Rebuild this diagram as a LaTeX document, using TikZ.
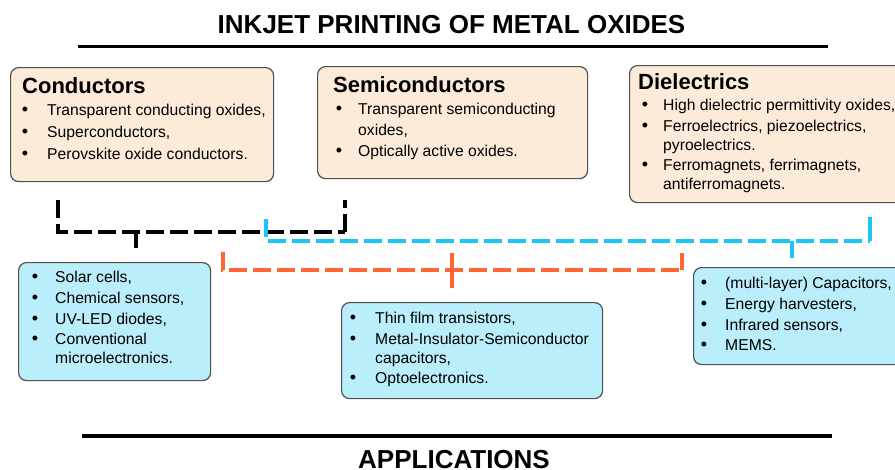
\documentclass[tikz,border=0pt]{standalone}
\usepackage{fontspec}
\setmainfont{Liberation Sans}
\definecolor{peach}{RGB}{253,235,218}
\definecolor{skyfill}{RGB}{185,238,250}
\definecolor{boxline}{RGB}{80,80,80}
\definecolor{cyanline}{RGB}{27,198,242}
\definecolor{orangeline}{RGB}{255,102,51}
\newcommand\bodyfont{\fontsize{15.7}{19}\selectfont}
\newcommand\bulfont{\fontsize{18}{20}\selectfont}
\newcommand\headfont{\fontsize{22}{26}\selectfont\bfseries}
\newcommand\titlefont{\fontsize{26}{30}\selectfont\bfseries}
\tikzset{
  catbox/.style={draw=boxline, line width=1.2pt, fill=peach, rounded corners=8pt, anchor=north west, inner sep=0pt},
  appbox/.style={draw=boxline, line width=1.2pt, fill=skyfill, rounded corners=8pt, anchor=north west, inner sep=0pt},
  head/.style={anchor=base west, inner sep=0pt, font=\headfont},
  itemtext/.style={anchor=base west, inner sep=0pt, font=\bodyfont},
  bul/.style={anchor=base, inner sep=0pt, font=\bulfont, yshift=-0.8pt},
  title/.style={anchor=base, inner sep=0pt, font=\titlefont},
  rule/.style={line width=3.5pt},
  bracket/.style={line width=3.2pt, dash pattern=on 18pt off 6pt},
  stub/.style={line width=3.2pt},
}
\begin{document}
\begin{tikzpicture}[x=1pt,y=-1pt]
\useasboundingbox (0,0) rectangle (895,469);
\clip (0,0) rectangle (895,469);
\fill[white] (0,0) rectangle (895,469);

% titles and rules
\node[title] (t1) at (451.5,33) {INKJET PRINTING OF METAL OXIDES};
\coordinate (r1a) at (78,46.5);
\coordinate (r1b) at (828,46.5);
\draw[rule] (r1a) -- (r1b);
\coordinate (r2a) at (82,436);
\coordinate (r2b) at (832,436);
\draw[rule] (r2a) -- (r2b);
\node[title] (t2) at (454,468.5) {APPLICATIONS};

% category boxes
\node[catbox, minimum width=263pt, minimum height=114pt] (cond) at (10,67) {};
\node[head] (condh) at (22,93) {Conductors};
\node[bul] (cb1) at (25,115) {•};
\node[itemtext] (ct1) at (47,115) {Transparent conducting oxides,};
\node[bul] (cb2) at (25,137) {•};
\node[itemtext] (ct2) at (47,137) {Superconductors,};
\node[bul] (cb3) at (25,159) {•};
\node[itemtext] (ct3) at (47,159) {Perovskite oxide conductors.};

\node[catbox, minimum width=270pt, minimum height=112pt] (semi) at (317,66) {};
\node[head] (semih) at (333,92) {Semiconductors};
\node[bul] (sb1) at (339,114) {•};
\node[itemtext] (st1) at (358,114) {Transparent semiconducting};
\node[itemtext] (st1b) at (358,135) {oxides,};
\node[bul] (sb2) at (339,156) {•};
\node[itemtext] (st2) at (358,156) {Optically active oxides.};

\node[catbox, minimum width=290pt, minimum height=137pt] (diel) at (629,65) {};
\node[head] (dielh) at (638,89) {Dielectrics};
\node[bul] (db1) at (645,110) {•};
\node[itemtext] (dt1) at (663,110) {High dielectric permittivity oxides,};
\node[bul] (db2) at (645,131) {•};
\node[itemtext] (dt2) at (663,131) {Ferroelectrics, piezoelectrics,};
\node[itemtext] (dt2b) at (663,150) {pyroelectrics.};
\node[bul] (db3) at (645,170) {•};
\node[itemtext] (dt3) at (663,170) {Ferromagnets, ferrimagnets,};
\node[itemtext] (dt3b) at (663,189) {antiferromagnets.};

% application boxes
\node[appbox, minimum width=192pt, minimum height=118pt] (appl) at (18,262) {};
\node[bul] (ab1) at (35,282) {•};
\node[itemtext] (at1) at (55,282) {Solar cells,};
\node[bul] (ab2) at (35,303) {•};
\node[itemtext] (at2) at (55,303) {Chemical sensors,};
\node[bul] (ab3) at (35,324) {•};
\node[itemtext] (at3) at (55,324) {UV-LED diodes,};
\node[bul] (ab4) at (35,344) {•};
\node[itemtext] (at4) at (55,344) {Conventional};
\node[itemtext] (at4b) at (55,363) {microelectronics.};

\node[appbox, minimum width=261pt, minimum height=96pt] (appm) at (341,302) {};
\node[bul] (mb1) at (353,323) {•};
\node[itemtext] (mt1) at (375,323) {Thin film transistors,};
\node[bul] (mb2) at (353,344) {•};
\node[itemtext] (mt2) at (375,344) {Metal-Insulator-Semiconductor};
\node[itemtext] (mt2b) at (375,363) {capacitors,};
\node[bul] (mb3) at (353,383) {•};
\node[itemtext] (mt3) at (375,383) {Optoelectronics.};

\node[appbox, minimum width=230pt, minimum height=97pt] (appr) at (693,267) {};
\node[bul] (rb1) at (704,288) {•};
\node[itemtext] (rt1) at (725,288) {(multi-layer) Capacitors,};
\node[bul] (rb2) at (704,309) {•};
\node[itemtext] (rt2) at (725,309) {Energy harvesters,};
\node[bul] (rb3) at (704,330) {•};
\node[itemtext] (rt3) at (725,330) {Infrared sensors,};
\node[bul] (rb4) at (704,350) {•};
\node[itemtext] (rt4) at (725,350) {MEMS.};

% black bracket
\coordinate (k1) at (58,200);
\coordinate (k2) at (58,232);
\coordinate (k3) at (345,232);
\coordinate (k4) at (345,200);
\coordinate (ks1) at (136,232);
\coordinate (ks2) at (136,248);
\draw[bracket, black] (k1) -- (k2) -- (k3);
\draw[bracket, black] (k3) -- (k4);
\draw[stub, black] (ks1) -- (ks2);

% cyan bracket
\coordinate (c1) at (266,219);
\coordinate (c2) at (266,241);
\coordinate (c3) at (870,241);
\coordinate (c4) at (870,217);
\coordinate (cs1) at (792,241);
\coordinate (cs2) at (792,258);
\draw[bracket, cyanline] (c1) -- (c2) -- (c3);
\draw[stub, cyanline] (c3) -- (c4);
\draw[stub, cyanline] (cs1) -- (cs2);

% orange bracket
\coordinate (o1) at (223,252);
\coordinate (o2) at (223,270);
\coordinate (o3) at (682,270);
\coordinate (o4) at (682,253);
\coordinate (os1) at (452,253);
\coordinate (os2) at (452,288);
\draw[bracket, orangeline] (o1) -- (o2) -- (o3);
\draw[stub, orangeline] (o3) -- (o4);
\draw[stub, orangeline] (os1) -- (os2);
\end{tikzpicture}
\end{document}
